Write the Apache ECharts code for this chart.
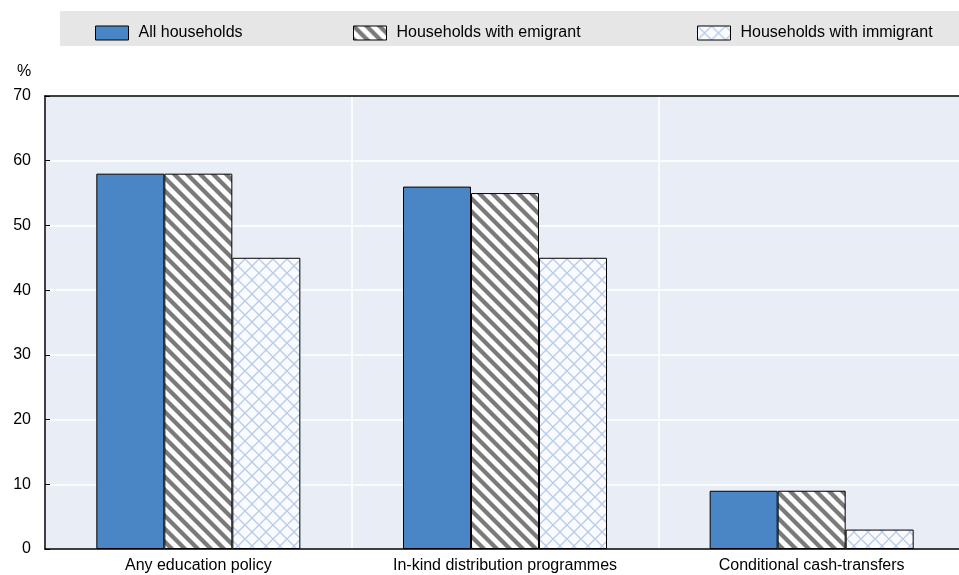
<!DOCTYPE html>
<html><head><meta charset="utf-8">
<script src="https://cdn.jsdelivr.net/npm/echarts@6/dist/echarts.min.js"></script>
<style>html,body{margin:0;padding:0;background:#fff}#c{width:959px;height:575px}</style>
</head><body><div id="c"></div>
<script>
var categories = ['Any education policy', 'In-kind distribution programmes', 'Conditional cash-transfers'];
var seriesNames = ['All households', 'Households with emigrant', 'Households with immigrant'];
var allHouseholds = [58, 56, 9];
var withEmigrant = [58, 55, 9];
var withImmigrant = [45, 45, 3];
var yTicks = [0, 10, 20, 30, 40, 50, 60, 70];

var FONT = '"Liberation Sans Narrow", "Arial Narrow", "Liberation Sans", sans-serif';

function hatch() {
  var s = 13, c = document.createElement('canvas');
  c.width = s; c.height = s;
  var g = c.getContext('2d');
  g.fillStyle = '#fdfdfd'; g.fillRect(0, 0, s, s);
  g.strokeStyle = '#7a7a7a'; g.lineWidth = 4.2;
  for (var k = -1; k <= 1; k++) {
    g.beginPath(); g.moveTo(k * s - 2, -2); g.lineTo(k * s + s + 2, s + 2); g.stroke();
  }
  return c;
}
function cross() {
  var s = 14, c = document.createElement('canvas');
  c.width = s; c.height = s;
  var g = c.getContext('2d');
  g.fillStyle = '#fafbfe'; g.fillRect(0, 0, s, s);
  g.strokeStyle = '#b9cbea'; g.lineWidth = 1.3;
  for (var k = -1; k <= 1; k++) {
    g.beginPath(); g.moveTo(k * s - 2, -2); g.lineTo(k * s + s + 2, s + 2); g.stroke();
    g.beginPath(); g.moveTo(k * s - 2, s + 2); g.lineTo(k * s + s + 2, -2); g.stroke();
  }
  return c;
}
var colors = ['#4a86c6', {image: hatch(), repeat: 'repeat'}, {image: cross(), repeat: 'repeat'}];
var dataArr = [allHouseholds, withEmigrant, withImmigrant];
var legendLeft = [95, 353, 697];

var chart = echarts.init(document.getElementById('c'), null, {renderer: 'canvas'});
chart.setOption({
  animation: false,
  graphic: [
    {type: 'rect', left: 60, top: 11, shape: {width: 899, height: 35}, style: {fill: '#e6e6e6'}, z: -1},
    {type: 'text', left: 17, top: 64, style: {text: '%', font: '16px ' + FONT, fill: '#000'}}
  ],
  legend: seriesNames.map(function (n, i) {
    return {
      data: [n], left: legendLeft[i], top: 25, padding: 0, icon: 'rect',
      itemWidth: 33, itemHeight: 14, itemGap: 10,
      textStyle: {fontFamily: FONT, fontSize: 16, color: '#000', padding: [0, 0, 0, 5]},
      itemStyle: {borderColor: '#000', borderWidth: 1}
    };
  }),
  grid: {left: 45, width: 920, top: 96, bottom: 26, outerBoundsMode: 'none', containLabel: false,
    show: true, backgroundColor: '#e9edf5', borderWidth: 0},
  xAxis: [{
    type: 'category', data: categories,
    axisLine: {lineStyle: {color: '#000', width: 1.5}},
    axisTick: {inside: true, length: 5, lineStyle: {color: '#000'}},
    axisLabel: {fontFamily: FONT, fontSize: 16, color: '#000', margin: 9},
    splitLine: {show: true, lineStyle: {color: '#fff', width: 1.5}}
  }, {
    type: 'category', data: categories, position: 'top',
    axisLine: {show: true, lineStyle: {color: '#000', width: 1.5}},
    axisTick: {show: false}, axisLabel: {show: false}, splitLine: {show: false}
  }],
  yAxis: {
    type: 'value', min: 0, max: 70, interval: 10,
    axisLine: {show: true, lineStyle: {color: '#000', width: 1.5}},
    axisTick: {show: true, inside: true, length: 5, lineStyle: {color: '#000'}},
    axisLabel: {fontFamily: FONT, fontSize: 16, color: '#000', margin: 14,
      formatter: function (v) { return yTicks.indexOf(v) >= 0 ? String(v) : ''; }},
    splitLine: {lineStyle: {color: '#fff', width: 1.5}}
  },
  series: seriesNames.map(function (n, i) {
    return {
      name: n, type: 'bar', data: dataArr[i], barGap: '0%', barWidth: 68,
      itemStyle: {color: colors[i], borderColor: '#000', borderWidth: 1}
    };
  })
});
</script></body></html>
